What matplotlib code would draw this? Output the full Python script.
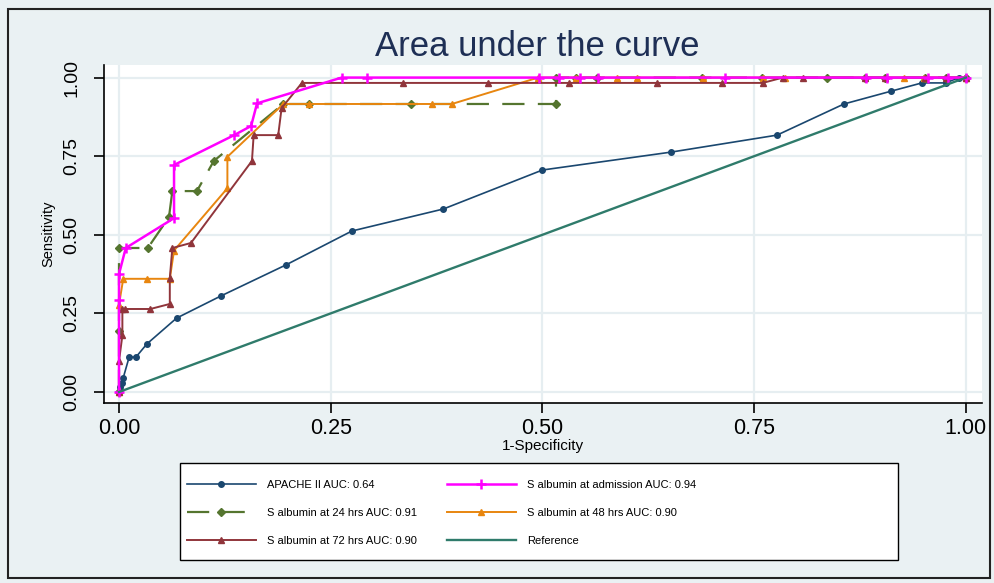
import matplotlib
matplotlib.use("Agg")
import matplotlib.pyplot as plt
from matplotlib.patches import Rectangle

plt.rcParams['font.family'] = ['Liberation Sans', 'DejaVu Sans']

# ---- data ----
apache_x = [0, 0.001, 0.004, 0.005, 0.012, 0.020, 0.033, 0.068, 0.120, 0.197, 0.275,
            0.383, 0.500, 0.652, 0.777, 0.856, 0.912, 0.948, 0.976, 0.992, 1.0]
apache_y = [0, 0.016, 0.029, 0.045, 0.111, 0.111, 0.153, 0.235, 0.305, 0.404, 0.512,
            0.582, 0.706, 0.763, 0.817, 0.916, 0.957, 0.983, 0.983, 1.0, 1.0]

adm_x = [0, 0, 0, 0.008, 0.065, 0.065, 0.136, 0.156, 0.163, 0.263, 0.293, 0.496,
         0.520, 0.544, 0.566, 0.715, 0.882, 0.907, 0.955, 0.979, 1.0]
adm_y = [0, 0.293, 0.375, 0.458, 0.553, 0.722, 0.817, 0.846, 0.918, 1.0, 1.0, 1.0,
         1.0, 1.0, 1.0, 1.0, 1.0, 1.0, 1.0, 1.0, 1.0]

h24_x = [0, 0, 0, 0.034, 0.059, 0.063, 0.092, 0.112, 0.194, 0.224, 0.345, 0.516,
         0.516, 0.540, 0.564, 0.688, 0.759, 0.836, 0.881, 0.904, 0.952, 0.977, 1.0]
h24_y = [0, 0.194, 0.458, 0.458, 0.556, 0.639, 0.639, 0.735, 0.916, 0.916, 0.916, 0.916,
         1.0, 1.0, 1.0, 1.0, 1.0, 1.0, 1.0, 1.0, 1.0, 1.0, 1.0]

h48_x = [0, 0, 0.005, 0.033, 0.060, 0.065, 0.128, 0.128, 0.194, 0.224, 0.370, 0.393,
         0.495, 0.540, 0.588, 0.612, 0.690, 0.760, 0.786, 0.927, 0.950, 1.0]
h48_y = [0, 0.277, 0.360, 0.360, 0.360, 0.450, 0.648, 0.748, 0.916, 0.916, 0.916, 0.916,
         1.0, 1.0, 1.0, 1.0, 1.0, 1.0, 1.0, 1.0, 1.0, 1.0]

h72_x = [0, 0, 0.004, 0.004, 0.007, 0.037, 0.060, 0.060, 0.063, 0.085, 0.157, 0.159,
         0.188, 0.192, 0.216, 0.335, 0.436, 0.531, 0.635, 0.712, 0.760, 0.784, 0.808,
         0.881, 0.904, 0.952, 0.977, 1.0]
h72_y = [0, 0.098, 0.180, 0.264, 0.264, 0.264, 0.280, 0.362, 0.458, 0.474, 0.735, 0.817,
         0.817, 0.903, 0.983, 0.983, 0.983, 0.983, 0.983, 0.983, 0.983, 1.0, 1.0,
         1.0, 1.0, 1.0, 1.0, 1.0]

ref_x = [0, 1]
ref_y = [0, 1]

labels = ["APACHE II AUC: 0.64", "S albumin at admission AUC: 0.94",
          "S albumin at 24 hrs AUC: 0.91", "S albumin at 48 hrs AUC: 0.90",
          "S albumin at 72 hrs AUC: 0.90", "Reference"]
ticks = [0, 0.25, 0.5, 0.75, 1.0]
tick_labels = ["0.00", "0.25", "0.50", "0.75", "1.00"]

# ---- figure ----
bg = "#eaf1f3"
fig = plt.figure(figsize=(9.95, 5.83), dpi=100, facecolor=bg)
fig.patches.append(Rectangle((8/995, 5/583), 982/995, 569/583, transform=fig.transFigure,
                             fill=False, edgecolor="#222222", linewidth=1.5))

ax = fig.add_axes([104/995, 1-403/583, 878/995, 338/583])
ax.set_facecolor("white")

navy = "#1a476f"
magenta = "#ff00ff"
green = "#55752f"
orange = "#e8860f"
maroon = "#90353b"
teal = "#2f7b6b"

l1, = ax.plot(apache_x, apache_y, color=navy, lw=1.2, marker='o', ms=4, label=labels[0])
l3, = ax.plot(h24_x, h24_y, color=green, lw=1.6, marker='D', ms=4, dashes=(10, 6),
              label=labels[2])
l4, = ax.plot(h48_x, h48_y, color=orange, lw=1.4, marker='^', ms=5, label=labels[3])
l5, = ax.plot(h72_x, h72_y, color=maroon, lw=1.4, marker='^', ms=5, label=labels[4])
l2, = ax.plot(adm_x, adm_y, color=magenta, lw=1.8, marker='+', ms=7, mew=1.8,
              label=labels[1])
l6, = ax.plot(ref_x, ref_y, color=teal, lw=1.7, label=labels[5])

ax.set_xlim(-0.0177, 1.019)
ax.set_ylim(-0.035, 1.040)
ax.set_xticks(ticks)
ax.set_xticklabels(tick_labels, fontsize=15.5)
ax.set_yticks(ticks)
ax.set_yticklabels(tick_labels, fontsize=14, rotation=90, va='center')
ax.grid(True, color="#e6eef1", lw=1.6)
ax.set_axisbelow(True)
for s in ['top', 'right']:
    ax.spines[s].set_visible(False)
ax.spines['left'].set_linewidth(1.2)
ax.spines['bottom'].set_linewidth(1.2)
ax.tick_params(direction='out', length=7, width=1.2)
ax.tick_params(axis='x', pad=4)
ax.tick_params(axis='y', pad=10)

ax.set_xlabel("1-Specificity", fontsize=11, labelpad=0)
ax.set_ylabel("Sensitivity", fontsize=10.5, labelpad=6)

fig.text(537/995, 1-46/583, "Area under the curve", fontsize=25, ha='center',
         va='center', color="#1e2f55")

# legend frame
fig.patches.append(Rectangle((180/995, 1-560/583), 718/995, 97/583,
                             transform=fig.transFigure, facecolor='white',
                             edgecolor='black', linewidth=1.0, zorder=1))
handles = [l1, l3, l5, l2, l4, l6]
leg = fig.legend(handles, [h.get_label() for h in handles], ncol=2,
                 loc='upper left', bbox_to_anchor=(187/995, 1-480/583),
                 fontsize=8, frameon=False,
                 handlelength=6.2, handletextpad=1.0, labelspacing=1.63,
                 borderaxespad=0, borderpad=0, columnspacing=2.7)

fig.savefig("out.png", dpi=100, facecolor=bg)
